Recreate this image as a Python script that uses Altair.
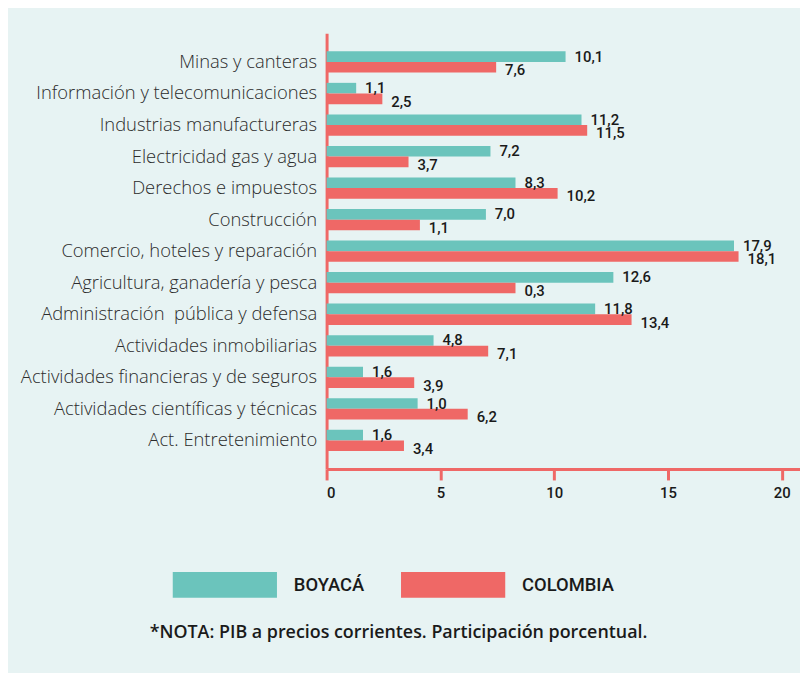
import altair as alt
import pandas as pd

categories = [
    "Minas y canteras",
    "Información y telecomunicaciones",
    "Industrias manufactureras",
    "Electricidad gas y agua",
    "Derechos e impuestos",
    "Construcción",
    "Comercio, hoteles y reparación",
    "Agricultura, ganadería y pesca",
    "Administración\u00a0 pública y defensa",
    "Actividades inmobiliarias",
    "Actividades financieras y de seguros",
    "Actividades científicas y técnicas",
    "Act. Entretenimiento",
]
series = ["BOYACÁ", "COLOMBIA"]
boyaca_bar = [10.5, 1.3, 11.2, 7.2, 8.3, 7.0, 17.9, 12.6, 11.8, 4.7, 1.6, 4.0, 1.6]
colombia_bar = [7.45, 2.45, 11.45, 3.6, 10.15, 4.1, 18.1, 8.3, 13.4, 7.1, 3.85, 6.2, 3.4]
boyaca_label = ["10,1", "1,1", "11,2", "7,2", "8,3", "7,0", "17,9", "12,6", "11,8", "4,8", "1,6", "1,0", "1,6"]
colombia_label = ["7,6", "2,5", "11,5", "3,7", "10,2", "1,1", "18,1", "0,3", "13,4", "7,1", "3,9", "6,2", "3,4"]
x_ticks = [0, 5, 10, 15, 20]
note = "*NOTA: PIB a precios corrientes. Participación porcentual."

colors = ["#6BC4BC", "#EF6866"]
axis_red = "#EF6866"

rows = []
for i, c in enumerate(categories):
    rows.append({"cat": c, "serie": series[0], "valor": boyaca_bar[i], "etiqueta": boyaca_label[i]})
    rows.append({"cat": c, "serie": series[1], "valor": colombia_bar[i], "etiqueta": colombia_label[i]})
df = pd.DataFrame(rows)

y_enc = alt.Y(
    "cat:N",
    sort=categories,
    scale=alt.Scale(paddingInner=0.325, paddingOuter=0.57),
    axis=alt.Axis(
        title=None,
        domainColor=axis_red,
        domainWidth=3,
        ticks=False,
        labelPadding=10,
        labelFont="Open Sans",
        labelFontWeight=300,
        labelFontSize=18.5,
        labelColor="#2b2b2b",
        labelLimit=400,
    ),
)
x_scale = alt.Scale(domain=[0, 20.8], nice=False, zero=True)
x_axis = alt.Axis(
    values=x_ticks,
    grid=False,
    domainColor=axis_red,
    domainWidth=3,
    tickColor=axis_red,
    tickWidth=3,
    tickSize=11,
    labelPadding=6,
    labelFont="Roboto",
    labelFontWeight=500,
    labelFontSize=15,
    labelColor="#1a1a1a",
    title=note,
    titleFont="Open Sans",
    titleFontWeight=600,
    titleFontSize=18,
    titleColor="#1a1a1a",
    titleX=72,
    titleY=165,
    titleAlign="center",
    titleBaseline="middle",
    titleAnchor="start",
)
yoff = alt.YOffset("serie:N", sort=series, scale=alt.Scale(paddingInner=0, paddingOuter=0))

rect_path = "M-1,-0.2476H1V0.2476H-1Z"

bars = alt.Chart(df).mark_bar(cornerRadius=0).encode(
    y=y_enc,
    yOffset=yoff,
    x=alt.X("valor:Q", scale=x_scale, axis=x_axis),
    color=alt.Color(
        "serie:N",
        sort=series,
        scale=alt.Scale(domain=series, range=colors),
        legend=alt.Legend(
            title=None,
            orient="none",
            direction="horizontal",
            legendX=-155,
            legendY=503,
            symbolType=rect_path,
            symbolSize=11025,
            symbolStrokeWidth=0,
            symbolOpacity=1,
            labelOffset=17,
            columnPadding=37,
            labelFont="Roboto",
            labelFontWeight=500,
            labelFontSize=18.5,
            labelColor="#1a1a1a",
            padding=0,
        ),
    ),
)

txt_common = dict(align="left", baseline="middle", dx=9, font="Roboto", fontWeight=500, fontSize=15, color="#1a1a1a")

txt_b = alt.Chart(df).transform_filter(alt.datum.serie == series[0]).mark_text(dy=0, **txt_common).encode(
    y=alt.Y("cat:N", sort=categories),
    yOffset=yoff,
    x=alt.X("valor:Q", scale=x_scale),
    text="etiqueta:N",
)
txt_c = alt.Chart(df).transform_filter(alt.datum.serie == series[1]).mark_text(dy=3, **txt_common).encode(
    y=alt.Y("cat:N", sort=categories),
    yOffset=yoff,
    x=alt.X("valor:Q", scale=x_scale),
    text="etiqueta:N",
)

chart = (
    alt.layer(bars, txt_b, txt_c)
    .properties(
        width=477,
        height=439,
        autosize=alt.AutoSizeParams(type="none"),
        padding={"left": 321, "top": 23, "right": 0, "bottom": 203},
        background="#E7F3F3",
    )
    .configure_view(stroke=None)
)

chart.save("out.html", embed_options={"renderer": "svg", "actions": False})
